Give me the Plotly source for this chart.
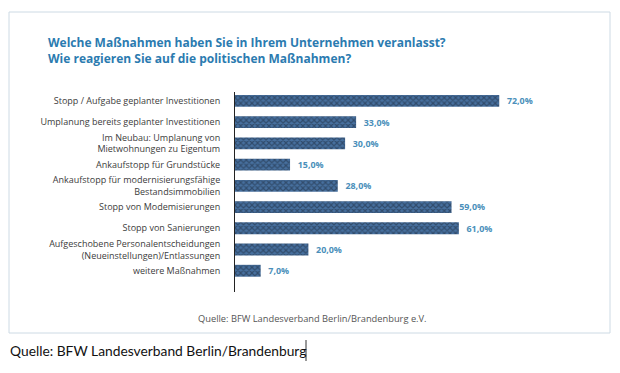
import plotly.graph_objects as go

categories = [
    "Stopp / Aufgabe geplanter Investitionen",
    "Umplanung bereits geplanter Investitionen",
    "Im Neubau: Umplanung von<br>Mietwohnungen zu Eigentum",
    "Ankaufstopp für Grundstücke",
    "Ankaufstopp für modernisierungsfähige<br>Bestandsimmobilien",
    "Stopp von Modemisierungen",
    "Stopp von Sanierungen",
    "Aufgeschobene Personalentscheidungen<br>(Neueinstellungen)/Entlassungen",
    "weitere Maßnahmen",
]
values = [72.0, 33.0, 30.0, 15.0, 28.0, 59.0, 61.0, 20.0, 7.0]
value_labels = ["\u00a0\u00a0" + f"{v:.1f}%".replace(".", ",") for v in values]

title_text = ("Welche Maßnahmen haben Sie in Ihrem Unternehmen veranlasst?<br>"
              "Wie reagieren Sie auf die politischen Maßnahmen?")
source_inner = "Quelle: BFW Landesverband Berlin/Brandenburg e.V."
source_outer = "Quelle: BFW Landesverband Berlin/Brandenburg"

# the page body has an 8px default margin; work in page pixels and convert
OFF = 8
W, H = 620 - 2 * OFF, 373 - 2 * OFF
L, R, T, B = 235 - OFF, 602 - OFF, 92 - OFF, 292 - OFF


def xp(px):
    return (px - OFF - L) / (R - L)


def yp(py):
    return (B - (py - OFF)) / (B - T)


fig = go.Figure(go.Bar(
    x=values,
    y=categories,
    orientation="h",
    width=0.56,
    marker=dict(
        color="#47709f",
        line=dict(width=0),
        pattern=dict(shape="x", fgcolor="#1c2839", size=4, solidity=0.5),
    ),
    text=value_labels,
    textposition="outside",
    textfont=dict(family="Open Sans", size=10.5, color="#4a8fba", weight="bold"),
    cliponaxis=False,
    hoverinfo="skip",
))

fig.update_layout(
    width=W, height=H,
    margin=dict(l=L, r=W - R, t=T, b=H - B, pad=0, autoexpand=False),
    paper_bgcolor="white",
    plot_bgcolor="white",
    showlegend=False,
    font=dict(family="Open Sans", color="#3c3c3c"),
    xaxis=dict(range=[0, 100], visible=False, fixedrange=True, automargin=False),
    yaxis=dict(
        type="category",
        categoryorder="array",
        categoryarray=categories,
        range=[9.0, -0.42],
        automargin=False,
        showline=True, linecolor="#222222", linewidth=1,
        ticks="", showgrid=False, zeroline=False,
        ticklabelstandoff=12,
        tickfont=dict(family="Open Sans", size=9, color="#3c3c3c"),
    ),
)

fig.add_shape(type="rect", xref="paper", yref="paper",
              x0=xp(9), x1=xp(610), y0=yp(333), y1=yp(12),
              line=dict(color="#cddae4", width=1), fillcolor="rgba(0,0,0,0)",
              layer="below")

fig.add_annotation(xref="paper", yref="paper", x=xp(46), y=yp(32),
                   xanchor="left", yanchor="top", align="left",
                   text="<b>" + title_text + "</b>", showarrow=False,
                   font=dict(family="Open Sans", size=12, color="#2b7bb0"))

fig.add_annotation(xref="paper", yref="paper", x=xp(312), y=yp(318),
                   xanchor="center", yanchor="middle",
                   text=source_inner, showarrow=False,
                   font=dict(family="Open Sans", size=9.3, color="#555555"))

fig.add_annotation(xref="paper", yref="paper", x=xp(8), y=yp(350),
                   xanchor="left", yanchor="middle",
                   text=source_outer, showarrow=False,
                   font=dict(family="Lato", size=13.8, color="#111111"))

fig.add_shape(type="line", xref="paper", yref="paper",
              x0=xp(306), x1=xp(306), y0=yp(340), y1=yp(361),
              line=dict(color="#333333", width=1))

fig.write_html("out.html")
